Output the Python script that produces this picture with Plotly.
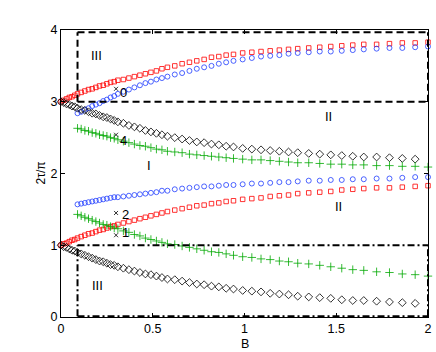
import plotly.graph_objects as go

# Shared B grid (markers get sparser with increasing B)
B = [0.0, 0.015, 0.03, 0.045, 0.06, 0.075, 0.09, 0.11, 0.13, 0.15, 0.17, 0.19, 0.21, 0.23,
     0.25, 0.27, 0.29, 0.31, 0.34, 0.37, 0.40, 0.43, 0.46, 0.49, 0.52, 0.55, 0.58, 0.62,
     0.66, 0.70, 0.74, 0.78, 0.82, 0.86, 0.90, 0.94, 0.99, 1.04, 1.09, 1.14, 1.19, 1.24,
     1.29, 1.35, 1.41, 1.47, 1.53, 1.59, 1.65, 1.72, 1.79, 1.86, 1.93, 2.00]
B_late = B[6:]          # branches that start at B = 0.09
B_black = B[:-1]        # black branches end just before B = 2

red_upper = [3.00, 3.02, 3.04, 3.06, 3.07, 3.09, 3.11, 3.13, 3.15, 3.17, 3.18, 3.20, 3.22, 3.23,
             3.25, 3.27, 3.28, 3.30, 3.31, 3.33, 3.35, 3.37, 3.39, 3.41, 3.43, 3.46, 3.48, 3.50,
             3.53, 3.55, 3.57, 3.59, 3.62, 3.63, 3.65, 3.66, 3.68, 3.69, 3.70, 3.71, 3.72, 3.73,
             3.74, 3.75, 3.76, 3.77, 3.78, 3.79, 3.80, 3.80, 3.81, 3.82, 3.82, 3.83]
black_upper = [3.00, 2.99, 2.97, 2.96, 2.94, 2.93, 2.91, 2.89, 2.88, 2.86, 2.84, 2.83, 2.81, 2.79,
               2.78, 2.76, 2.74, 2.72, 2.70, 2.67, 2.65, 2.63, 2.60, 2.58, 2.56, 2.54, 2.52, 2.50,
               2.48, 2.46, 2.44, 2.43, 2.41, 2.40, 2.38, 2.37, 2.35, 2.34, 2.33, 2.32, 2.31, 2.30,
               2.29, 2.28, 2.27, 2.26, 2.25, 2.24, 2.23, 2.23, 2.22, 2.21, 2.20]
blue_upper = [2.84, 2.86, 2.89, 2.91, 2.94, 2.96, 2.98, 3.01, 3.03, 3.06, 3.08, 3.11, 3.14, 3.17,
              3.20, 3.23, 3.26, 3.28, 3.31, 3.33, 3.35, 3.38, 3.40, 3.43, 3.46, 3.48, 3.50, 3.53,
              3.55, 3.57, 3.59, 3.61, 3.63, 3.64, 3.65, 3.67, 3.68, 3.69, 3.70, 3.70, 3.71, 3.72,
              3.73, 3.74, 3.75, 3.75, 3.76, 3.77]
green_upper = [2.63, 2.62, 2.60, 2.59, 2.57, 2.56, 2.54, 2.53, 2.52, 2.50, 2.49, 2.47, 2.45, 2.43,
               2.41, 2.39, 2.38, 2.36, 2.34, 2.33, 2.31, 2.30, 2.29, 2.27, 2.26, 2.25, 2.24, 2.23,
               2.22, 2.21, 2.20, 2.19, 2.19, 2.18, 2.17, 2.16, 2.15, 2.15, 2.14, 2.13, 2.13, 2.12,
               2.12, 2.11, 2.11, 2.10, 2.10, 2.09]
red_lower = [1.00, 1.02, 1.03, 1.05, 1.07, 1.08, 1.10, 1.12, 1.14, 1.16, 1.17, 1.19, 1.21, 1.22,
             1.24, 1.26, 1.27, 1.29, 1.31, 1.33, 1.35, 1.37, 1.39, 1.41, 1.43, 1.45, 1.47, 1.49,
             1.51, 1.53, 1.55, 1.56, 1.58, 1.59, 1.61, 1.62, 1.64, 1.65, 1.66, 1.68, 1.69, 1.70,
             1.72, 1.73, 1.74, 1.75, 1.77, 1.78, 1.79, 1.80, 1.80, 1.81, 1.82, 1.83]
blue_lower = [1.57, 1.58, 1.59, 1.60, 1.61, 1.62, 1.63, 1.64, 1.65, 1.66, 1.67, 1.67, 1.68, 1.69,
              1.70, 1.71, 1.72, 1.73, 1.74, 1.76, 1.76, 1.78, 1.79, 1.80, 1.81, 1.82, 1.82, 1.83,
              1.84, 1.84, 1.85, 1.86, 1.86, 1.87, 1.88, 1.88, 1.89, 1.90, 1.90, 1.91, 1.91, 1.92,
              1.92, 1.93, 1.93, 1.94, 1.95, 1.95]
green_lower = [1.43, 1.41, 1.39, 1.37, 1.35, 1.33, 1.31, 1.29, 1.28, 1.26, 1.24, 1.23, 1.20, 1.18,
               1.15, 1.13, 1.10, 1.08, 1.06, 1.04, 1.02, 1.01, 0.99, 0.97, 0.95, 0.93, 0.91, 0.90,
               0.88, 0.86, 0.84, 0.83, 0.81, 0.80, 0.78, 0.77, 0.75, 0.74, 0.72, 0.70, 0.68, 0.66,
               0.65, 0.63, 0.62, 0.60, 0.59, 0.57]
black_lower = [1.00, 0.98, 0.97, 0.95, 0.93, 0.92, 0.90, 0.88, 0.86, 0.84, 0.82, 0.80, 0.78, 0.77,
               0.75, 0.73, 0.72, 0.70, 0.68, 0.66, 0.64, 0.62, 0.60, 0.59, 0.57, 0.55, 0.53, 0.52,
               0.50, 0.48, 0.46, 0.45, 0.43, 0.42, 0.40, 0.39, 0.37, 0.36, 0.35, 0.33, 0.32, 0.31,
               0.29, 0.28, 0.27, 0.26, 0.24, 0.23, 0.23, 0.22, 0.21, 0.20, 0.19]

# Numbered x markers
mark_B = [0.30, 0.30, 0.30, 0.30]
mark_y = [3.18, 2.54, 1.45, 1.14]
mark_labels = ["0", "4", "2", "1"]

# Region labels
region_B = [0.195, 1.46, 0.48, 1.51, 0.197]
region_y = [3.65, 2.79, 2.11, 1.54, 0.44]
region_labels = ["III", "II", "I", "II", "III"]

# Region boxes
box_B0, box_B1 = 0.09, 2.0
upper_box = (3.0, 3.97)
lower_box = (0.01, 1.0)

FONT = "Liberation Sans, Arial, sans-serif"
fig = go.Figure()

def add(x, y, symbol, color, size, lw=0.8):
    fig.add_trace(go.Scatter(
        x=x, y=y, mode="markers", cliponaxis=False,
        marker=dict(symbol=symbol, size=size, color=color, line=dict(width=lw, color=color)),
        showlegend=False, hoverinfo="skip"))

add(B, red_upper, "square-open", "#ff0000", 4.5)
add(B, red_lower, "square-open", "#ff0000", 4.5)
add(B_late, blue_upper, "circle-open", "#1f3cff", 5)
add(B_late, blue_lower, "circle-open", "#1f3cff", 5)
add(B_black, black_upper, "diamond-open", "#000000", 6)
add(B_black, black_lower, "diamond-open", "#000000", 6)
add(B_late, green_upper, "cross-thin", "#00a800", 6)
add(B_late, green_lower, "cross-thin", "#00a800", 6)

fig.add_trace(go.Scatter(
    x=mark_B, y=mark_y, mode="markers",
    marker=dict(symbol="x-thin", size=4, color="black", line=dict(width=0.8, color="black")),
    showlegend=False, hoverinfo="skip"))
label_shift = [(7, -4), (7, -6), (9, -2), (9, 3)]
for bx, by, t, (dx, dy) in zip(mark_B, mark_y, mark_labels, label_shift):
    fig.add_annotation(x=bx, y=by, text=t, showarrow=False, xanchor="center",
                       xshift=dx, yshift=dy, font=dict(family=FONT, size=13, color="black"))

for bx, by, t in zip(region_B, region_y, region_labels):
    fig.add_annotation(x=bx, y=by, text=t, showarrow=False,
                       font=dict(family=FONT, size=13, color="black"))

dash = "7px,4px"
dashdot = "7px,3px,2px,3px"
for (y0, y1), d in [(upper_box, dash), (lower_box, dashdot)]:
    ln = dict(color="black", width=2, dash=d)
    fig.add_shape(type="line", x0=box_B0, x1=box_B1, y0=y0, y1=y0, line=ln)
    fig.add_shape(type="line", x0=box_B0, x1=box_B1, y0=y1, y1=y1, line=ln)
    fig.add_shape(type="line", x0=box_B0, x1=box_B0, y0=y0, y1=y1, line=ln)
    fig.add_shape(type="line", x0=box_B1, x1=box_B1, y0=y0, y1=y1, line=ln)

axis_common = dict(showline=True, linecolor="black", linewidth=1, mirror="ticks",
                   ticks="inside", ticklen=4, tickcolor="black", showgrid=False,
                   zeroline=False, automargin=False, ticklabeloverflow="allow",
                   tickfont=dict(family=FONT, size=12.5, color="black"))
fig.update_xaxes(range=[0, 2], tickvals=[0, 0.5, 1, 1.5, 2],
                 ticktext=["0", "0.5", "1", "1.5", "2"], **axis_common)
fig.update_yaxes(range=[0, 4], tickvals=[0, 1, 2, 3, 4],
                 ticktext=["0", "1", "2", "3", "4"], **axis_common)

fig.add_annotation(x=0.5, y=0, xref="paper", yref="paper", text="B", showarrow=False,
                   yanchor="top", yshift=-18, font=dict(family=FONT, size=12.5, color="black"))
fig.add_annotation(x=0, y=0.5, xref="paper", yref="paper", text="2τ/π", showarrow=False,
                   textangle=-90, xanchor="center", xshift=-21,
                   font=dict(family=FONT, size=12, color="black"))

fig.update_layout(width=436, height=352, margin=dict(l=61, r=8, t=30, b=35),
                  plot_bgcolor="white", paper_bgcolor="white", showlegend=False)

fig.write_html("out.html", config={"displayModeBar": False},
               post_script="document.body.style.margin='0';document.body.style.overflow='hidden';")
